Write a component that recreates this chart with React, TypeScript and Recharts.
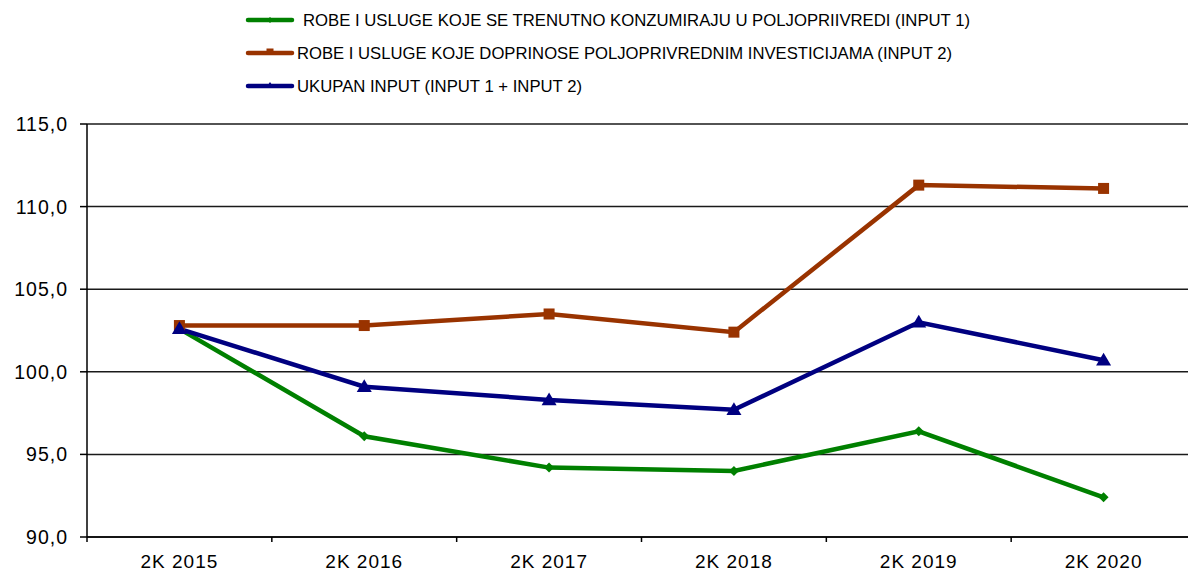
import React from 'react';
import { LineChart, Line, XAxis, YAxis, CartesianGrid, Legend } from 'recharts';

const categories = ['2K 2015', '2K 2016', '2K 2017', '2K 2018', '2K 2019', '2K 2020'];
const input1 = [102.6, 96.1, 94.2, 94.0, 96.4, 92.4];
const input2 = [102.8, 102.8, 103.5, 102.4, 111.3, 111.1];
const totalInput = [102.6, 99.1, 98.3, 97.7, 103.0, 100.7];
const yTicks = [90, 95, 100, 105, 110, 115];

const seriesNames = {
  input1: 'ROBE I USLUGE KOJE SE TRENUTNO KONZUMIRAJU U POLJOPRIIVREDI (INPUT 1)',
  input2: 'ROBE I USLUGE KOJE DOPRINOSE POLJOPRIVREDNIM INVESTICIJAMA (INPUT 2)',
  total: 'UKUPAN INPUT (INPUT 1 + INPUT 2)',
};

const data = categories.map((name, i) => ({
  name,
  input1: input1[i],
  input2: input2[i],
  total: totalInput[i],
}));

const GREEN = '#008000';
const BROWN = '#993300';
const NAVY = '#000080';
const FONT = '"Liberation Sans", Arial, Helvetica, sans-serif';

const CHART_W = 1200;
const CHART_H = 572;
const Y_AXIS_W = 87;
const MARGIN_RIGHT = 4;
const HALF_BAND = (CHART_W - Y_AXIS_W - MARGIN_RIGHT) / categories.length / 2;

const Diamond = (props: any) => {
  const { cx, cy, index } = props;
  if (cx == null || cy == null) return <g key={index} />;
  const r = 5;
  return (
    <path
      key={index}
      d={`M${cx},${cy - r}L${cx + r},${cy}L${cx},${cy + r}L${cx - r},${cy}Z`}
      fill={GREEN}
    />
  );
};

const Square = (props: any) => {
  const { cx, cy, index } = props;
  if (cx == null || cy == null) return <g key={index} />;
  const s = 5.5;
  return <rect key={index} x={cx - s} y={cy - s} width={s * 2} height={s * 2} fill={BROWN} />;
};

const Triangle = (props: any) => {
  const { cx, cy, index } = props;
  if (cx == null || cy == null) return <g key={index} />;
  const r = 7.5;
  return (
    <path
      key={index}
      d={`M${cx},${cy - r}L${cx + r},${cy + r * 0.7}L${cx - r},${cy + r * 0.7}Z`}
      fill={NAVY}
    />
  );
};

const XTick = (props: any) => {
  const { x, y, payload } = props;
  return (
    <g>
      <line x1={x - HALF_BAND} y1={y} x2={x - HALF_BAND} y2={y + 5} stroke="#000" strokeWidth={1.5} />
      <text x={x} y={y + 31} textAnchor="middle" fontSize={19} letterSpacing={1} fontFamily={FONT} fill="#000">
        {payload.value}
      </text>
    </g>
  );
};

const legendRows = [
  { key: 'input1', color: GREEN, y: 20, textX: 303, textW: 667, marker: 'diamond' },
  { key: 'input2', color: BROWN, y: 53, textX: 297, textW: 655, marker: 'square' },
  { key: 'total', color: NAVY, y: 86, textX: 297, textW: 285, marker: 'triangle' },
];

const LegendContent = () => (
  <svg width={1188} height={100} style={{ display: 'block' }}>
    {legendRows.map((row) => {
      const mx = 270;
      const my = row.y;
      let marker;
      if (row.marker === 'diamond') {
        marker = <path d={`M${mx},${my - 3}L${mx + 3},${my}L${mx},${my + 3}L${mx - 3},${my}Z`} fill={row.color} />;
      } else if (row.marker === 'square') {
        marker = <rect x={mx - 3.5} y={my - 4.5} width={7} height={5} fill={row.color} />;
      } else {
        marker = <path d={`M${mx},${my - 4}L${mx + 4},${my + 2}L${mx - 4},${my + 2}Z`} fill={row.color} />;
      }
      return (
        <g key={row.key}>
          <line x1={248} y1={my} x2={292} y2={my} stroke={row.color} strokeWidth={4.5} strokeLinecap="round" />
          {marker}
          <text
            x={row.textX}
            y={my + 6}
            fontSize={17}
            fontFamily={FONT}
            fill="#000"
            textLength={row.textW}
            lengthAdjust="spacingAndGlyphs"
          >
            {seriesNames[row.key as keyof typeof seriesNames]}
          </text>
        </g>
      );
    })}
  </svg>
);

export default function App() {
  return (
    <div style={{ position: 'absolute', left: 0, top: 0, width: 1188, height: 572, overflow: 'hidden', background: '#fff' }}>
      <LineChart
        width={CHART_W}
        height={CHART_H}
        data={data}
        margin={{ top: 124, right: MARGIN_RIGHT, bottom: 0, left: 0 }}
      >
        <CartesianGrid vertical={false} stroke="#1a1a1a" strokeWidth={1.5} />
        <XAxis
          dataKey="name"
          height={35}
          padding={{ left: HALF_BAND, right: HALF_BAND }}
          axisLine={{ stroke: '#000', strokeWidth: 1.5 }}
          tickLine={false}
          tickSize={0}
          tickMargin={0}
          tick={<XTick />}
          interval={0}
        />
        <YAxis
          width={Y_AXIS_W}
          domain={[90, 115]}
          ticks={yTicks}
          interval={0}
          axisLine={{ stroke: '#000', strokeWidth: 1.5 }}
          tickLine={{ stroke: '#000', strokeWidth: 1.5 }}
          tickSize={7}
          tickMargin={12}
          tick={{ fontSize: 19.5, fontFamily: FONT, fill: '#000', letterSpacing: 1 }}
          tickFormatter={(v: number) => v.toFixed(1).replace('.', ',')}
        />
        <Legend
          layout="vertical"
          align="center"
          verticalAlign="middle"
          wrapperStyle={{ top: 0, left: 0, width: 1188, height: 100 }}
          content={<LegendContent />}
        />
        <Line
          dataKey="input1"
          name={seriesNames.input1}
          stroke={GREEN}
          strokeWidth={4.5}
          dot={Diamond}
          activeDot={false}
          isAnimationActive={false}
        />
        <Line
          dataKey="input2"
          name={seriesNames.input2}
          stroke={BROWN}
          strokeWidth={4.5}
          dot={Square}
          activeDot={false}
          isAnimationActive={false}
        />
        <Line
          dataKey="total"
          name={seriesNames.total}
          stroke={NAVY}
          strokeWidth={4.5}
          dot={Triangle}
          activeDot={false}
          isAnimationActive={false}
        />
      </LineChart>
    </div>
  );
}
